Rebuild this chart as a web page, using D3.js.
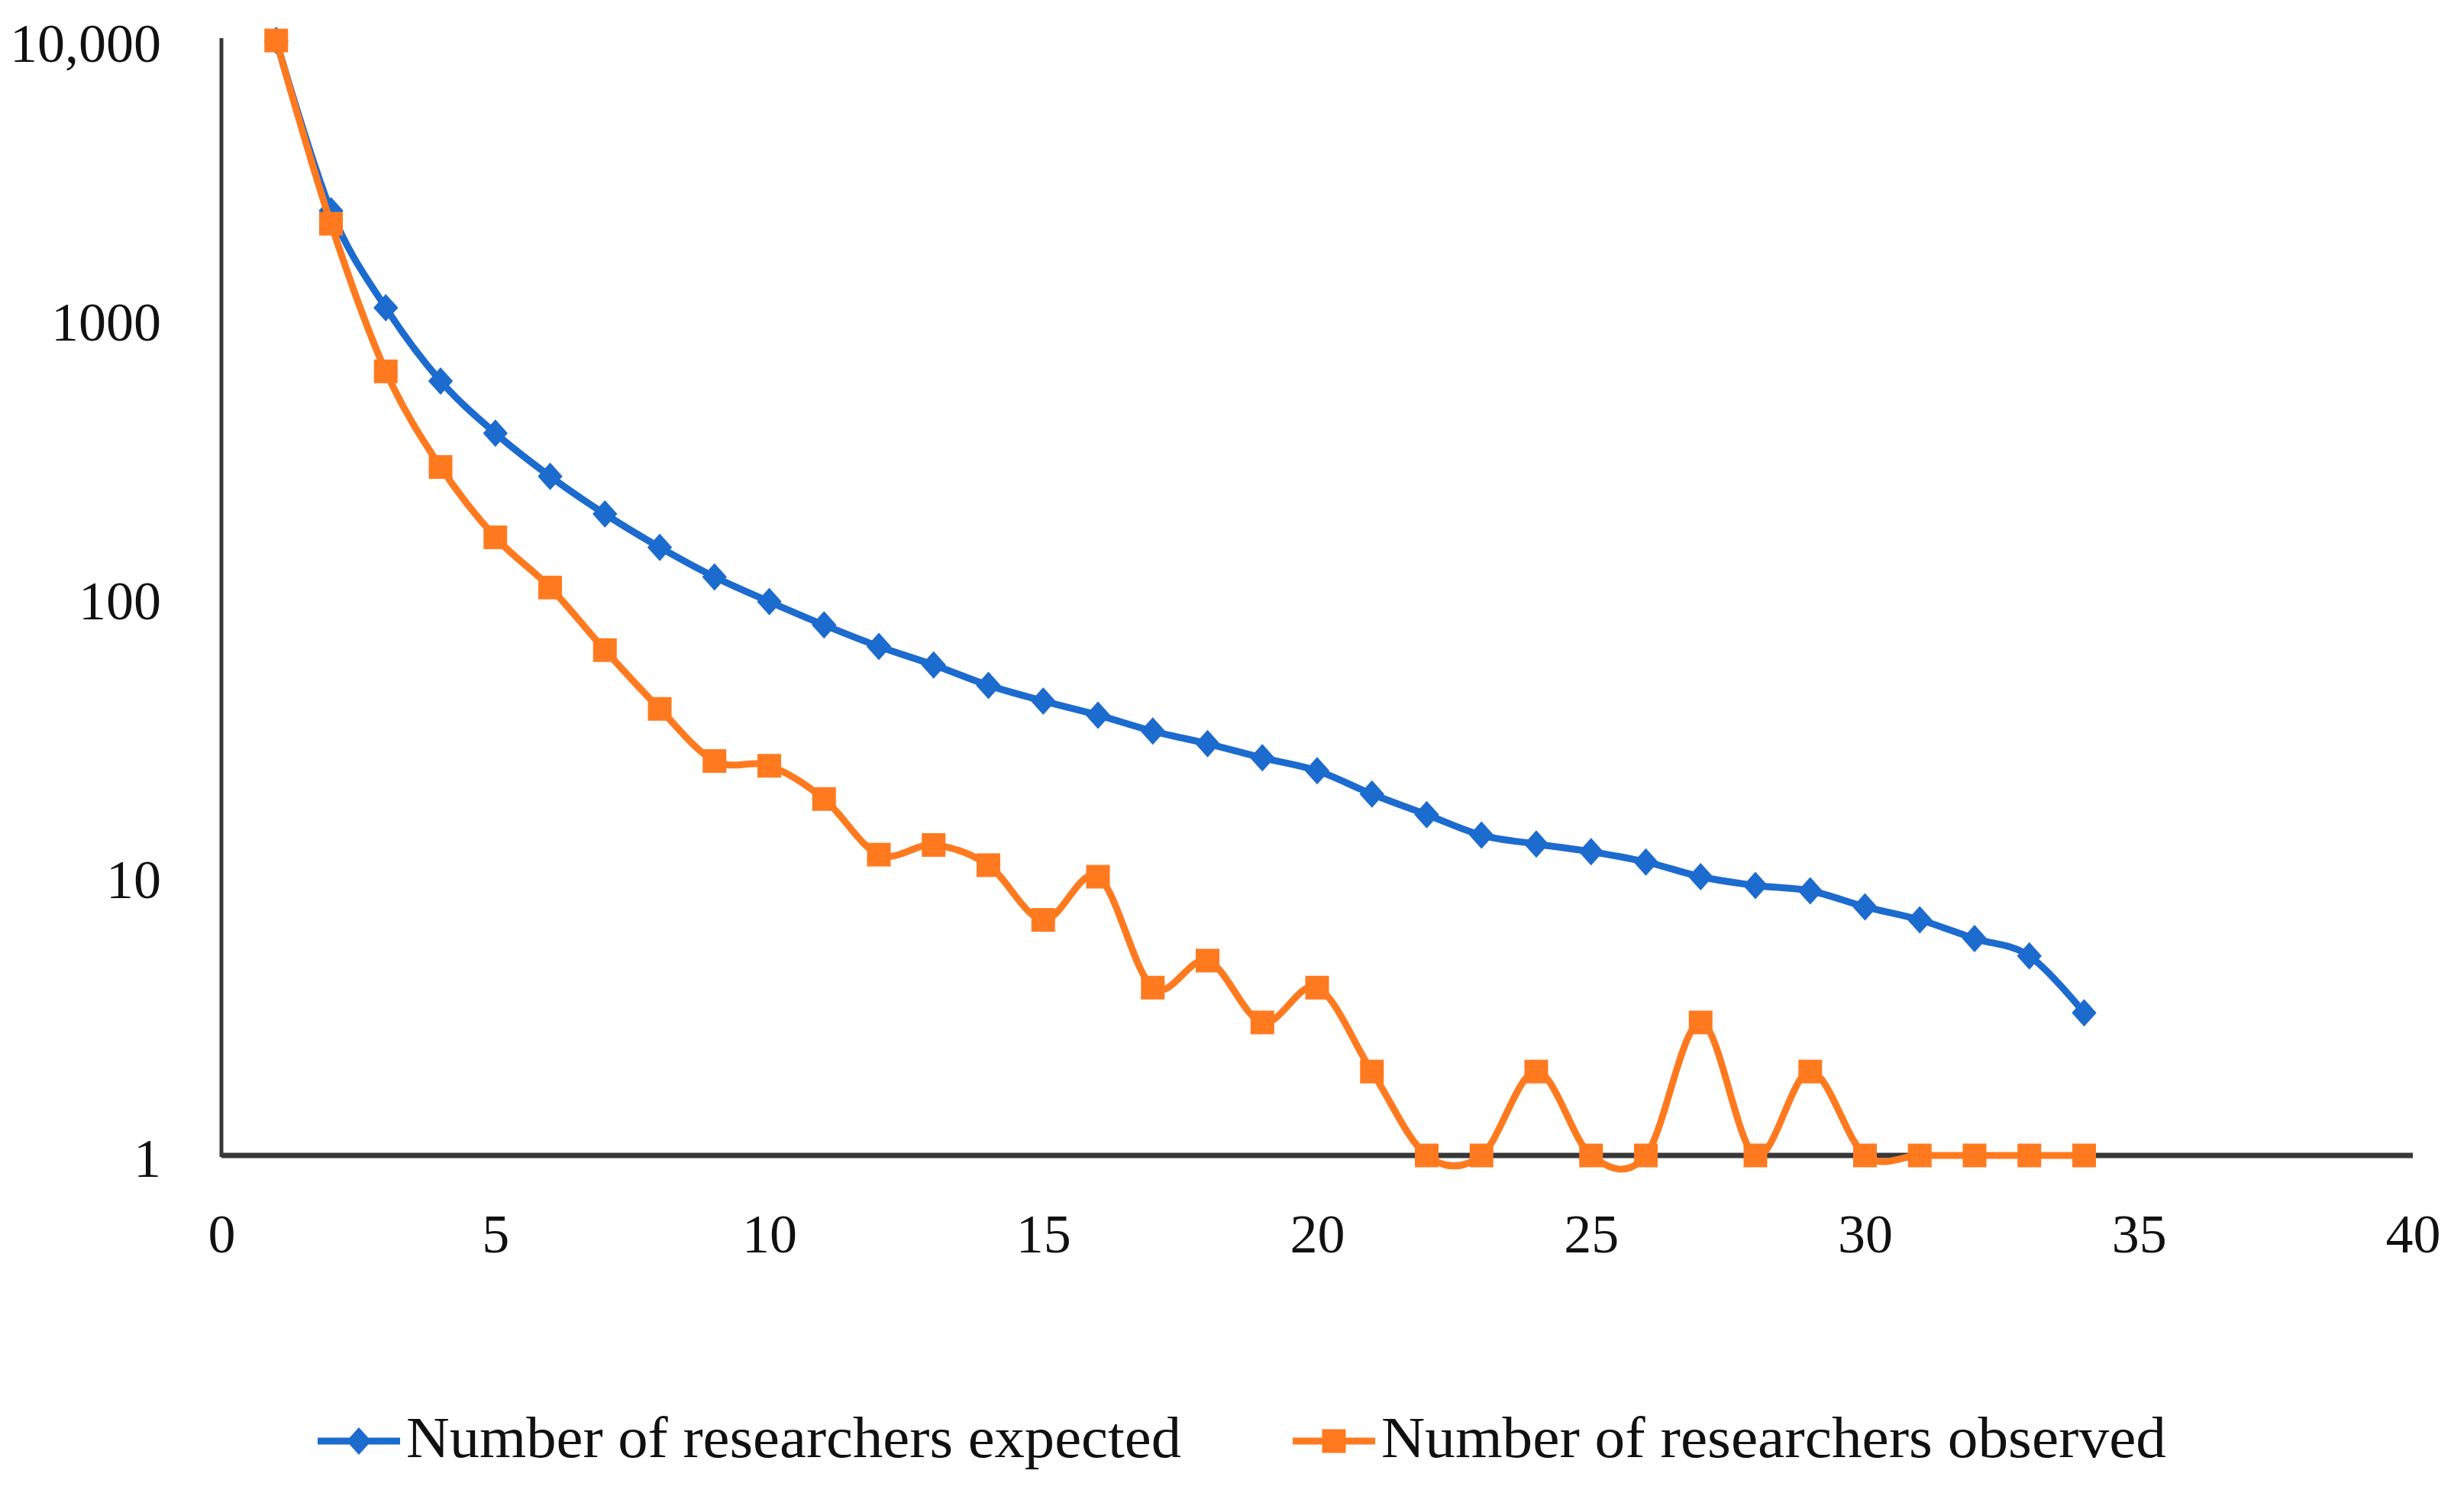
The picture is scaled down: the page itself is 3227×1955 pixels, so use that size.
<!DOCTYPE html>
<html>
<head>
<meta charset="utf-8">
<script src="https://cdn.jsdelivr.net/npm/d3@7"></script>
<style>
  html, body { margin: 0; padding: 0; background: #fff; }
  svg { display: block; }
</style>
</head>
<body>
<svg id="chart" width="3227" height="1955"></svg>
<script>
// ---- data ----
const xValues = [1,2,3,4,5,6,7,8,9,10,11,12,13,14,15,16,17,18,19,20,21,22,23,24,25,26,27,28,29,30,31,32,33,34];
const expected = [10000,2450,1100,600,390,273,200,152,119,97,80,67,57.5,48.6,42.7,38,33.3,30,26.7,24,19.8,16.7,14.1,13.1,12.3,11.3,10,9.3,8.9,7.8,7.0,6.0,5.2,3.25];
const observed = [10000,2200,650,295,165,109,65,40,26,25,19,12,13,11,7,10,4,5,3,4,2,1,1,2,1,1,3,1,2,1,1,1,1,1];
const seriesNames = ["Number of researchers expected", "Number of researchers observed"];
const yTickValues = [1, 10, 100, 1000, 10000];
const yTickLabels = ["1", "10", "100", "1000", "10,000"];
const xTickValues = [0, 5, 10, 15, 20, 25, 30, 35, 40];

// ---- layout ----
const svg = d3.select("#chart");
const blue = "#1C6BCE", orange = "#FF7A1F", axisColor = "#383838";
const fontFamily = "'Liberation Serif', 'Times New Roman', serif";

const x = d3.scaleLinear().domain([0, 40]).range([290, 3160]);
const y = d3.scaleLog().domain([1, 10000]).range([1513, 53]);

// Y axis
const yAxis = d3.axisLeft(y)
  .tickValues(yTickValues)
  .tickFormat(d => yTickLabels[yTickValues.indexOf(d)])
  .tickSize(0).tickPadding(79);
const gy = svg.append("g").attr("transform", `translate(${x(0)},0)`).call(yAxis);
gy.select(".domain").remove();
gy.selectAll("text").attr("font-family", fontFamily).attr("font-size", 72).attr("fill", "#111").attr("dy", "0.38em");
svg.append("line").attr("x1", x(0)).attr("x2", x(0)).attr("y1", 50).attr("y2", y(1) + 2)
  .attr("stroke", axisColor).attr("stroke-width", 5);

// X axis
const xAxis = d3.axisBottom(x).tickValues(xTickValues).tickSize(0).tickPadding(76).tickFormat(d3.format("d"));
const gx = svg.append("g").attr("transform", `translate(0,${y(1)})`).call(xAxis);
gx.select(".domain").remove();
gx.selectAll("text").attr("font-family", fontFamily).attr("font-size", 72).attr("fill", "#111");
svg.append("line").attr("x1", x(0)).attr("x2", x(40)).attr("y1", y(1)).attr("y2", y(1))
  .attr("stroke", axisColor).attr("stroke-width", 7);

// lines
const line = d3.line().x(d => x(d[0])).y(d => y(d[1])).curve(d3.curveCardinal.tension(0));
const expData = xValues.map((v, i) => [v, expected[i]]);
const obsData = xValues.map((v, i) => [v, observed[i]]);

const dr = 18, sq = 31, lw = 9;
const diamond = (cx, cy, r) => `M${cx},${cy - r}L${cx + r * 0.9},${cy}L${cx},${cy + r}L${cx - r * 0.9},${cy}Z`;

svg.append("path").datum(expData).attr("d", line).attr("fill", "none").attr("stroke", blue).attr("stroke-width", lw);
svg.append("g").selectAll("path").data(expData).join("path")
  .attr("d", d => diamond(x(d[0]), y(d[1]), dr)).attr("fill", blue);

svg.append("path").datum(obsData).attr("d", line).attr("fill", "none").attr("stroke", orange).attr("stroke-width", lw);
svg.append("g").selectAll("rect").data(obsData).join("rect")
  .attr("x", d => x(d[0]) - sq / 2).attr("y", d => y(d[1]) - sq / 2)
  .attr("width", sq).attr("height", sq).attr("fill", orange);

// legend
const legY = 1887;
const leg = [
  { x0: 416, x1: 524, tx: 532, tw: 1015, color: blue, type: "d", name: seriesNames[0] },
  { x0: 1693, x1: 1801, tx: 1809, tw: 1028, color: orange, type: "s", name: seriesNames[1] }
];
leg.forEach(l => {
  svg.append("line").attr("x1", l.x0).attr("x2", l.x1).attr("y1", legY).attr("y2", legY)
    .attr("stroke", l.color).attr("stroke-width", lw);
  const cx = (l.x0 + l.x1) / 2;
  if (l.type === "d") svg.append("path").attr("d", diamond(cx, legY, dr)).attr("fill", l.color);
  else svg.append("rect").attr("x", cx - sq / 2).attr("y", legY - sq / 2).attr("width", sq).attr("height", sq).attr("fill", l.color);
  svg.append("text").attr("x", l.tx).attr("y", 1908).text(l.name)
    .attr("font-family", fontFamily).attr("font-size", 76).attr("fill", "#111")
    .attr("textLength", l.tw).attr("lengthAdjust", "spacingAndGlyphs");
});
</script>
</body>
</html>
